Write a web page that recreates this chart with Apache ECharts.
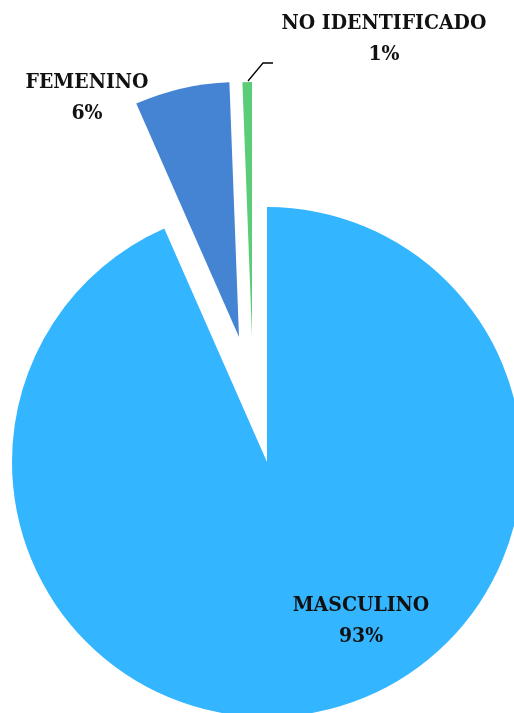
<!DOCTYPE html>
<html>
<head>
<meta charset="utf-8">
<script src="https://cdn.jsdelivr.net/npm/echarts@6/dist/echarts.min.js"></script>
<style>
  html, body { margin: 0; padding: 0; background: #fff; }
  #main { width: 514px; height: 713px; }
</style>
</head>
<body>
<div id="main"></div>
<script>
// datos del grafico
var categorias = ['MASCULINO', 'FEMENINO', 'NO IDENTIFICADO'];
var valores = [93.4, 6.0, 0.6];
var colores = ['#33B5FF', '#4584D3', '#5BCD78'];

// centro de cada porcion (las dos pequeñas estan separadas)
var centros = [[267, 462], [239, 337], [252, 337]];
// posicion de las etiquetas
var posEtiquetas = [[361, 621], [87, 98], [384, 39]];

var fuente = "'DejaVu Serif Condensed', 'DejaVu Serif', serif";

var myChart = echarts.init(document.getElementById('main'));

var series = [];
for (let s = 0; s < categorias.length; s++) {
    let datos = [];
    for (let i = 0; i < categorias.length; i++) {
        datos.push({
            name: categorias[i],
            value: valores[i],
            itemStyle: { color: i === s ? colores[i] : 'transparent' },
            label: { show: i === s },
            labelLine: { show: i === s && s === 2 }
        });
    }
    series.push({
        type: 'pie',
        center: centros[s],
        radius: 255,
        startAngle: 90,
        clockwise: true,
        silent: true,
        animation: false,
        avoidLabelOverlap: false,
        percentPrecision: 0,
        label: {
            position: s === 0 ? 'inside' : 'outside',
            formatter: '{b}\n{d}%',
            color: '#111',
            fontFamily: fuente,
            fontWeight: 'bold',
            fontSize: 21,
            lineHeight: 31,
            align: 'center'
        },
        labelLine: {
            lineStyle: { color: '#000', width: 1.3 }
        },
        labelLayout: function (p) {
            var pos = posEtiquetas[s];
            var res = { x: pos[0], y: pos[1], align: 'center', verticalAlign: 'middle' };
            if (s === 2) {
                res.labelLinePoints = [[248, 81], [263, 63], [273, 63]];
            }
            return res;
        },
        data: datos
    });
}

var option = {
    backgroundColor: '#fff',
    series: series
};
myChart.setOption(option);
</script>
</body>
</html>
